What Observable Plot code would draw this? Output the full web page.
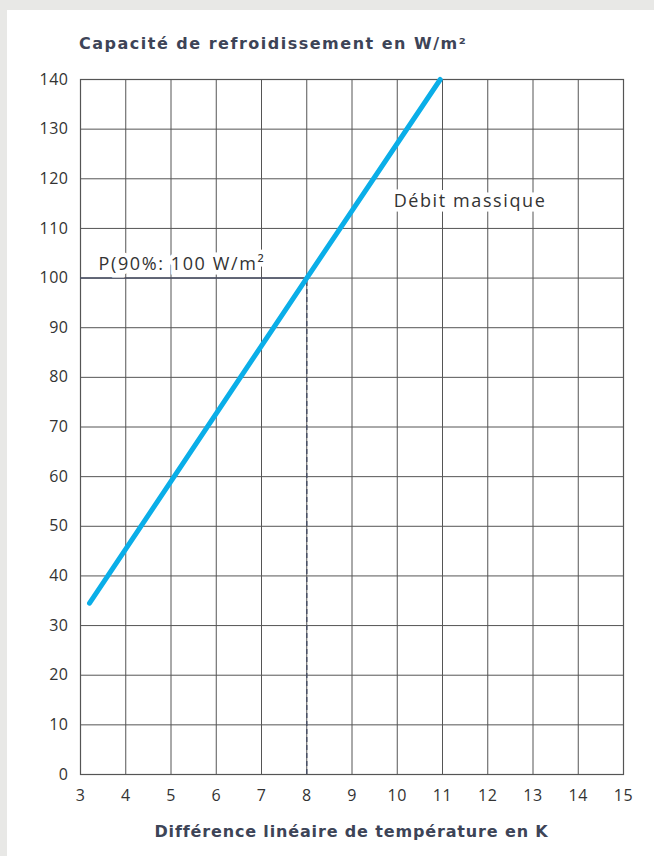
<!DOCTYPE html>
<html>
<head>
<meta charset="utf-8">
<script src="https://cdn.jsdelivr.net/npm/d3@7"></script>
<script src="https://cdn.jsdelivr.net/npm/@observablehq/plot@0.6"></script>
<style>
  html, body { margin: 0; padding: 0; background: #e8e8e6; width: 654px; height: 856px; overflow: hidden; }
  #panel { position: absolute; left: 7px; top: 10px; right: 0; bottom: 0; background: #fff; }
  #title { position: absolute; left: 79px; top: 34px; font-family: "DejaVu Sans", sans-serif; font-weight: bold; font-size: 16px; letter-spacing: 1.5px; color: #3d4457; white-space: nowrap; }
  #chart { position: absolute; left: 0; top: 60px; }
  #xlabel { position: absolute; left: 80px; width: 543px; top: 822px; text-align: center; font-family: "DejaVu Sans", sans-serif; font-weight: bold; font-size: 16px; letter-spacing: 0.85px; color: #3d4457; white-space: nowrap; }
</style>
</head>
<body>
<div id="panel"></div>
<div id="title">Capacité de refroidissement en W/m²</div>
<div id="chart"></div>
<div id="xlabel">Différence linéaire de température en K</div>
<script>
const xTicks = [3, 4, 5, 6, 7, 8, 9, 10, 11, 12, 13, 14, 15];
const yTicks = [0, 10, 20, 30, 40, 50, 60, 70, 80, 90, 100, 110, 120, 130, 140];

// "Débit massique" line
const lineX = [3.2, 8, 10.95];
const lineY = [34.5, 100, 140];

// operating point P(90%)
const pointX = 8;
const pointY = 100;

const labels = [
  { x: 9.92, y: 115.5, text: "Débit massique" },
  { x: 3.4, y: 102.8, text: "P(90%: 100 W/m²" }
];

const lineData = lineX.map((x, i) => ({ x, y: lineY[i] }));

const chart = Plot.plot({
  width: 654,
  height: 760,
  marginLeft: 80,
  marginRight: 31,
  marginTop: 19,
  marginBottom: 46,
  style: { fontFamily: "'Open Sans', sans-serif", fontSize: "16px", color: "#333", background: "transparent" },
  x: { domain: [3, 15], ticks: xTicks, tickSize: 0, tickPadding: 15, label: null },
  y: { domain: [0, 140], ticks: yTicks, tickSize: 0, tickPadding: 12, label: null },
  marks: [
    Plot.gridX(xTicks, { stroke: "#555", strokeOpacity: 1, strokeWidth: 1 }),
    Plot.gridY(yTicks, { stroke: "#555", strokeOpacity: 1, strokeWidth: 1 }),
    Plot.frame({ stroke: "#555", strokeWidth: 1.2 }),
    Plot.ruleY([pointY], { x1: 3, x2: pointX, stroke: "#4a5166", strokeWidth: 1.5 }),
    Plot.ruleX([pointX], { y1: 0, y2: pointY, stroke: "#4a5166", strokeWidth: 1.5, strokeDasharray: "5,3" }),
    Plot.text(labels, { x: "x", y: "y", text: "text", textAnchor: "start", fontSize: 18, fill: "#333", stroke: "white", strokeWidth: 9, strokeLinejoin: "miter", fontFamily: "'Open Sans', sans-serif" }),
    Plot.line(lineData, { x: "x", y: "y", stroke: "#0aaee8", strokeWidth: 5, strokeLinecap: "round" })
  ]
});
chart.querySelectorAll("g[aria-label='x-axis tick label'] text, g[aria-label='y-axis tick label'] text").forEach(t => t.setAttribute("fill", "#333"));
chart.querySelectorAll("g[aria-label='text'] text").forEach(t => t.setAttribute("letter-spacing", "1.6px"));
chart.querySelectorAll("g[aria-label='x-axis tick label'] text, g[aria-label='y-axis tick label'] text").forEach(t => t.setAttribute("letter-spacing", "0.5px"));
document.getElementById("chart").appendChild(chart);
</script>
</body>
</html>
